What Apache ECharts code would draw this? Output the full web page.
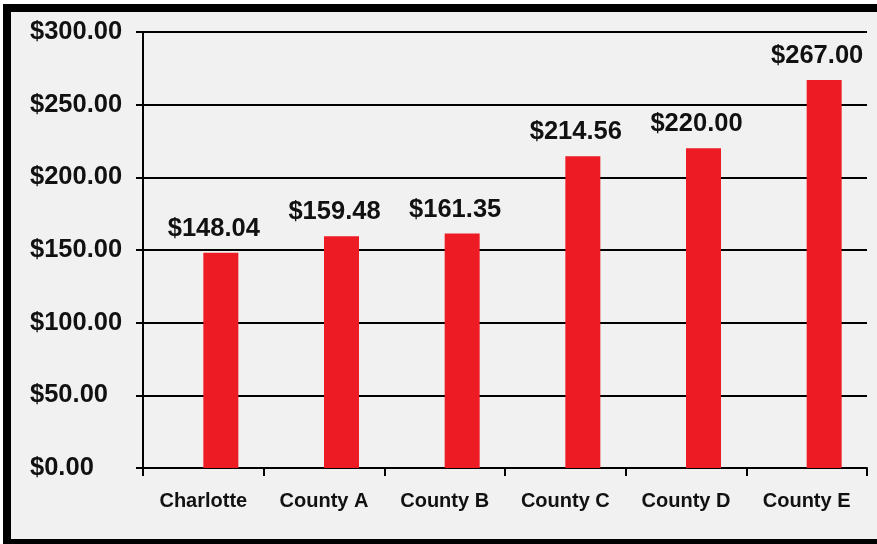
<!DOCTYPE html>
<html>
<head>
<meta charset="utf-8">
<script src="https://cdn.jsdelivr.net/npm/echarts@6/dist/echarts.min.js"></script>
<style>
  html, body { margin: 0; padding: 0; background: #fff; }
  .frame { position: absolute; left: 3px; top: 4px; width: 874px; height: 540px; background: #000; }
  #chart { position: absolute; left: 11px; top: 12px; width: 866px; height: 527px; background: #f1f1f1; }
</style>
</head>
<body>
<div class="frame"></div>
<div id="chart"></div>
<script>
const categories = ['Charlotte', 'County A', 'County B', 'County C', 'County D', 'County E']
const costs = [148.04, 159.48, 161.35, 214.56, 220.00, 267.00]
const yTicks = { min: 0, max: 300, interval: 50 }

const font = "'Liberation Sans', Arial, Helvetica, sans-serif"
const money = v => '$' + Number(v).toFixed(2)

const chart = echarts.init(document.getElementById('chart'))
chart.setOption({
  animation: false,
  textStyle: { fontFamily: font },
  grid: { left: 132, right: 10, top: 20, bottom: 71, containLabel: false },
  xAxis: {
    type: 'category', data: categories,
    axisLine: { lineStyle: { color: '#000', width: 2 } },
    axisTick: { show: true, length: 8, alignWithLabel: false, lineStyle: { color: '#000', width: 2 } },
    axisLabel: { color: '#111', fontSize: 20, fontWeight: 'bold', fontFamily: font, margin: 23 }
  },
  yAxis: {
    type: 'value', min: yTicks.min, max: yTicks.max, interval: yTicks.interval,
    axisLine: { show: true, lineStyle: { color: '#000', width: 2 } },
    axisTick: { show: true, length: 7, lineStyle: { color: '#000', width: 2 } },
    splitLine: { lineStyle: { color: '#000', width: 2 } },
    // labels sit flush left in the reference
    axisLabel: { color: '#111', fontSize: 25.5, fontWeight: 'bold', fontFamily: font, margin: 113, align: 'left', padding: [3, 0, 0, 0], formatter: money }
  },
  series: [
    // empty partner series, pushes the real bars right of the category centre
    { type: 'bar', data: categories.map(() => null), barWidth: 35, barGap: '0%' },
    {
      type: 'bar', data: costs, barWidth: 35, barGap: '0%',
      itemStyle: { color: '#ed1c24' },
      label: {
        show: true, position: 'top', offset: [-7, -6], color: '#111',
        fontSize: 25.5, fontWeight: 'bold', fontFamily: font, formatter: p => money(p.value)
      }
    }
  ]
})
</script>
</body>
</html>
